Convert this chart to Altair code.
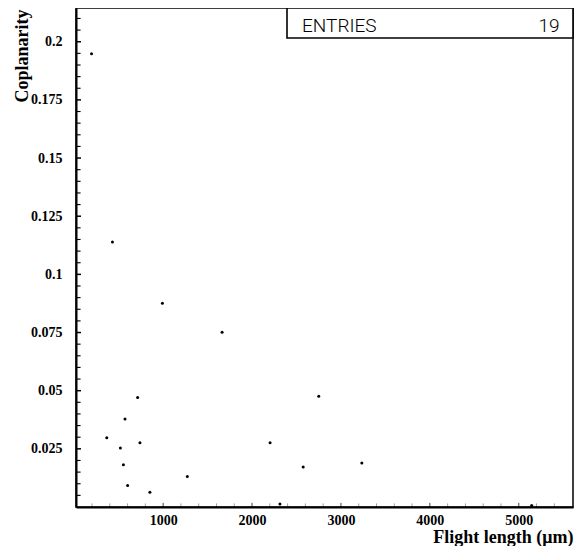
import altair as alt
import pandas as pd

# Data
flight_length = [195, 430, 992, 1663, 713, 571, 366, 519, 739, 553, 601, 851,
                 1272, 2203, 2314, 2750, 2575, 3235, 5145]
coplanarity = [0.1948, 0.1139, 0.0876, 0.0751, 0.0471, 0.0378, 0.0298, 0.0254,
               0.0276, 0.0182, 0.0092, 0.0063, 0.0131, 0.0276, 0.0013, 0.0476,
               0.0172, 0.0189, 0.0006]

x_labels = [1000, 2000, 3000, 4000, 5000]
y_labels = [0.025, 0.05, 0.075, 0.1, 0.125, 0.15, 0.175, 0.2]
x_minor = [v * 200 for v in range(1, 28) if v % 5 != 0]
y_minor = [round(v * 0.005, 3) for v in range(1, 43) if v % 5 != 0]

stats_name = "ENTRIES"
stats_value = str(len(flight_length))

W, H = 497, 499
x_dom = [20, 5610]
y_dom = [0, 0.2145]

SERIF = "Liberation Serif"

# one table: data points plus the inward axis ticks, all placed through the scales
rows = [{"x": a, "y": b, "kind": "pt"} for a, b in zip(flight_length, coplanarity)]
rows += [{"x": v, "y": y_dom[0], "kind": "xm"} for v in x_minor]
rows += [{"x": v, "y": y_dom[0], "kind": "xM"} for v in x_labels]
rows += [{"x": x_dom[0], "y": v, "kind": "ym"} for v in y_minor]
rows += [{"x": x_dom[0], "y": v, "kind": "yM"} for v in y_labels]
df = pd.DataFrame(rows)

kinds = ["pt", "xm", "xM", "ym", "yM"]
shapes = ["circle", "M0,0L0,-2", "M0,0L0,-2", "M0,0L2,0", "M0,0L2,0"]
sizes = [9, 25, 100, 30.25, 121]
widths = [0, 1.5, 1.5, 1.5, 1.5]

xs = alt.Scale(domain=x_dom, nice=False, zero=False)
ys = alt.Scale(domain=y_dom, nice=False, zero=False)

x_axis = alt.Axis(
    values=x_labels, format="d", ticks=False, grid=False,
    domain=True, domainWidth=2, domainColor="black",
    labelFont=SERIF, labelFontWeight="bold", labelFontSize=14,
    labelColor="black", labelPadding=6, labelFlush=False, labelOverlap=False,
    title="Flight length (\u03bcm)", titleFont=SERIF, titleFontSize=18,
    titleFontWeight="bold", titleColor="black", titleAnchor="end",
    titleAlign="right", titleBaseline="alphabetic", titleX=W, titleY=35)
y_axis = alt.Axis(
    values=y_labels, format=".3~f", ticks=False, grid=False,
    domain=True, domainWidth=2, domainColor="black",
    labelFont=SERIF, labelFontWeight="bold", labelFontSize=14,
    labelColor="black", labelPadding=14, labelFlush=False, labelOverlap=False,
    title="Coplanarity", titleFont=SERIF, titleFontSize=18,
    titleFontWeight="bold", titleColor="black", titleAngle=270,
    titleAlign="right", titleBaseline="alphabetic", titleX=-49, titleY=1)

marks = alt.Chart(df).mark_point(filled=True, fill="black", stroke="black", opacity=1).encode(
    x=alt.X("x:Q", scale=xs, axis=x_axis),
    y=alt.Y("y:Q", scale=ys, axis=y_axis),
    shape=alt.Shape("kind:N", scale=alt.Scale(domain=kinds, range=shapes), legend=None),
    size=alt.Size("kind:O", scale=alt.Scale(domain=kinds, range=sizes), legend=None),
    strokeWidth=alt.StrokeWidth("kind:O", scale=alt.Scale(domain=kinds, range=widths), legend=None),
)

one = pd.DataFrame({"name": [stats_name], "val": [stats_value]})
box = alt.Chart(one).mark_rect(fill="white", stroke="black", strokeWidth=1.6).encode(
    x=alt.value(W - 286), x2=alt.value(W), y=alt.value(0), y2=alt.value(30))
name_txt = alt.Chart(one).mark_text(align="left", baseline="alphabetic", fontSize=19,
                                    font="Roboto", fontWeight=300, color="black").encode(
    x=alt.value(W - 271), y=alt.value(23.5), text="name:N")
val_txt = alt.Chart(one).mark_text(align="right", baseline="alphabetic", fontSize=19,
                                   font="Roboto", fontWeight=300, color="black").encode(
    x=alt.value(W - 13.5), y=alt.value(23.5), text="val:N")

chart = alt.layer(
    marks, box, name_txt, val_txt,
).properties(
    width=W, height=H,
    autosize=alt.AutoSizeParams(type="none"),
    padding={"left": 68, "top": 0, "right": 1, "bottom": 39},
    background="white",
).configure_view(stroke="black", strokeWidth=1.5)

chart.save("out.html", embed_options={"renderer": "svg", "actions": False})
